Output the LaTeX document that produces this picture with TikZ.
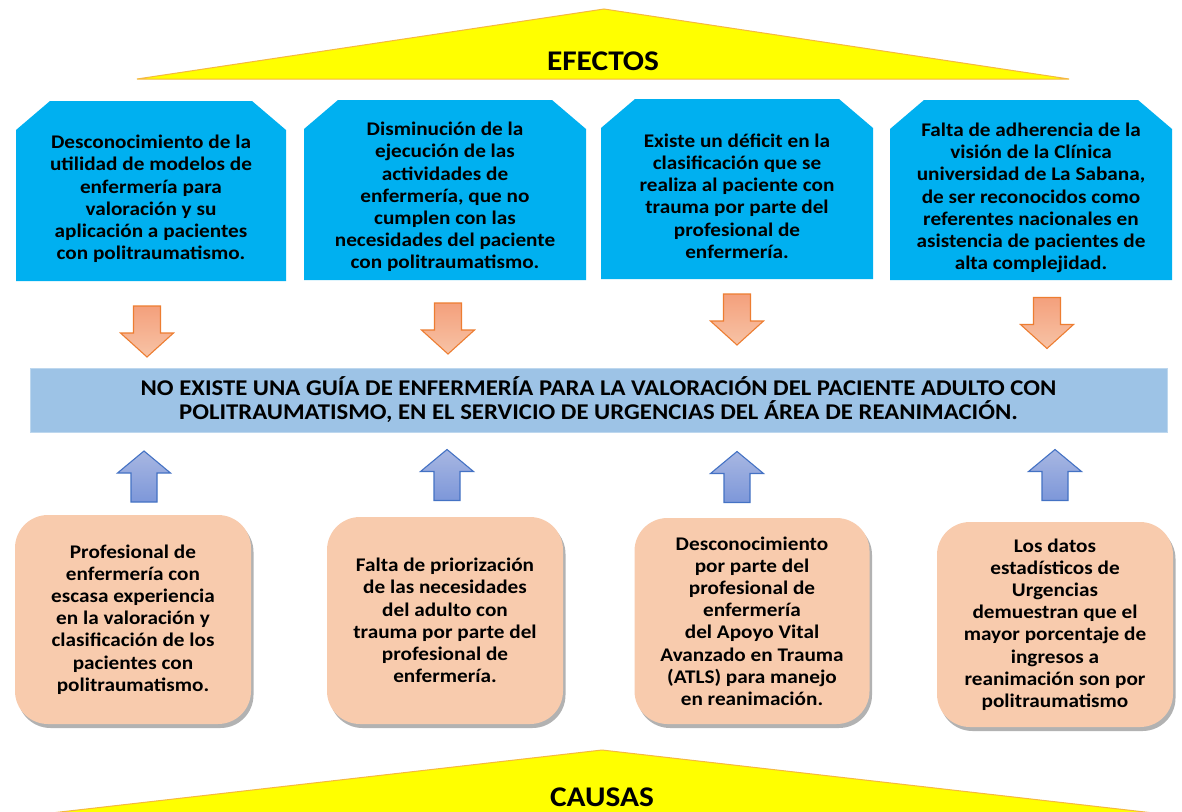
\documentclass[tikz,border=0pt]{standalone}
\usepackage{fontspec}
\setmainfont{Carlito}[FakeStretch=1.1]
\usetikzlibrary{shadows}
\definecolor{effblue}{HTML}{00B0F0}
\definecolor{banfill}{HTML}{9DC3E6}
\definecolor{banline}{HTML}{BDD7EE}
\definecolor{causefill}{HTML}{F8CBAD}
\definecolor{triyellow}{HTML}{FFFF00}
\definecolor{triline}{HTML}{F5B840}
\definecolor{dntop}{HTML}{F4A07C}
\definecolor{dnbot}{HTML}{F7C3A6}
\definecolor{dnline}{HTML}{ED7D31}
\definecolor{uptop}{HTML}{A8B7E2}
\definecolor{upbot}{HTML}{7D97D9}
\definecolor{upline}{HTML}{4472C4}
\newcommand\effbox[7]{%
  \fill[effblue] (#2,#5) -- (#2,#3+29) -- (#2+34,#3) -- (#4-34,#3) -- (#4,#3+29) -- (#4,#5) -- cycle;
  \node[boxtext] (#1) at ({(#2+#4)/2},#6) {#7};
}
\begin{document}
\begin{tikzpicture}[x=1pt,y=-1pt,
  boxtext/.style={font=\bfseries\fontsize{19.3}{22.2}\selectfont, align=center, inner sep=0pt, text=black},
  causebox/.style={boxtext, fill=causefill, rounded corners=33pt,
    drop shadow={shadow xshift=2.5pt, shadow yshift=-4pt, opacity=0.3, fill=black}},
  bigtitle/.style={font=\bfseries\fontsize{28.5}{30}\selectfont, inner sep=0pt, anchor=base},
  banner/.style={fill=banfill, draw=banline, line width=1pt, inner sep=0pt,
    font=\bfseries\fontsize{22.5}{24}\selectfont, align=center},
  pics/dnarrow/.style={code={
    \shade[top color=dntop, bottom color=dnbot, draw=dnline, line width=1.1pt]
      (-13.5,-25.5) -- (13.5,-25.5) -- (13.5,1.5) -- (26.5,1.5) -- (0,25.5)
      -- (-26.5,1.5) -- (-13.5,1.5) -- cycle;}},
  pics/uparrow/.style={code={
    \shade[top color=uptop, bottom color=upbot, draw=upline, line width=1.1pt]
      (-13,25.5) -- (13,25.5) -- (13,-3.5) -- (26.5,-3.5) -- (0,-25.5)
      -- (-26.5,-3.5) -- (-13,-3.5) -- cycle;}}
]
\useasboundingbox (0,0) rectangle (1182,811);
\fill[white] (0,0) rectangle (1182,811);

% top triangle
\filldraw[fill=triyellow, draw=triline, line width=1pt] (137,79) -- (604,9) -- (1069,79) -- cycle;
\node[bigtitle] (efectos) at (603,70) {EFECTOS};

% effect boxes
\effbox{e1}{16}{101}{286}{281}{199}{Desconocimiento de la\\utilidad de modelos de\\enfermería para\\valoración y su\\aplicación a pacientes\\con politraumatismo.}
\effbox{e2}{304}{100}{586}{280}{197}{Disminución de la\\ejecución de las\\actividades de\\enfermería, que no\\cumplen con las\\necesidades del paciente\\con politraumatismo.}
\effbox{e3}{601}{99}{873}{279}{196}{Existe un déficit en la\\clasificación que se\\realiza al paciente con\\trauma por parte del\\profesional de\\enfermería.}
\effbox{e4}{890}{100}{1172}{280}{198}{Falta de adherencia de la\\visión de la Clínica\\universidad de La Sabana,\\de ser reconocidos como\\referentes nacionales en\\asistencia de pacientes de\\alta complejidad.}

% down arrows
\pic (d1) at (147,331.5) {dnarrow};
\pic (d2) at (448,328.5) {dnarrow};
\pic (d3) at (737,319.5) {dnarrow};
\pic (d4) at (1047,323) {dnarrow};

% banner
\node[banner, minimum width=1137pt, minimum height=64pt] (prob) at (598.5,400)
  {NO EXISTE UNA GUÍA DE ENFERMERÍA PARA LA VALORACIÓN DEL PACIENTE ADULTO CON\\
   POLITRAUMATISMO, EN EL SERVICIO DE URGENCIAS DEL ÁREA DE REANIMACIÓN.};

% up arrows
\pic (u1) at (144,476.5) {uparrow};
\pic (u2) at (447,475) {uparrow};
\pic (u3) at (737,477) {uparrow};
\pic (u4) at (1055,475) {uparrow};

% cause boxes
\node[causebox, minimum width=236pt, minimum height=209pt] (c1) at (133,619.5)
  {Profesional de\\enfermería con\\escasa experiencia\\en la valoración y\\clasificación de los\\pacientes con\\politraumatismo.};
\node[causebox, minimum width=236pt, minimum height=207pt] (c2) at (445,620.5)
  {Falta de priorización\\de las necesidades\\del adulto con\\trauma por parte del\\profesional de\\enfermería.};
\node[causebox, minimum width=235pt, minimum height=206pt] (c3) at (752,621)
  {Desconocimiento\\por parte del\\profesional de\\enfermería\\del Apoyo Vital\\Avanzado en Trauma\\(ATLS) para manejo\\en reanimación.};
\node[causebox, minimum width=236pt, minimum height=205pt] (c4) at (1055,624.5)
  {Los datos\\estadísticos de\\Urgencias\\demuestran que el\\mayor porcentaje de\\ingresos a\\reanimación son por\\politraumatismo};

% bottom triangle
\begin{scope}
  \clip (0,0) rectangle (1182,811);
  \filldraw[fill=triyellow, draw=triline, line width=1pt] (-10,820) -- (602,750) -- (1215,820) -- cycle;
\end{scope}
\node[bigtitle] (causas) at (602,806) {CAUSAS};
\end{tikzpicture}
\end{document}
